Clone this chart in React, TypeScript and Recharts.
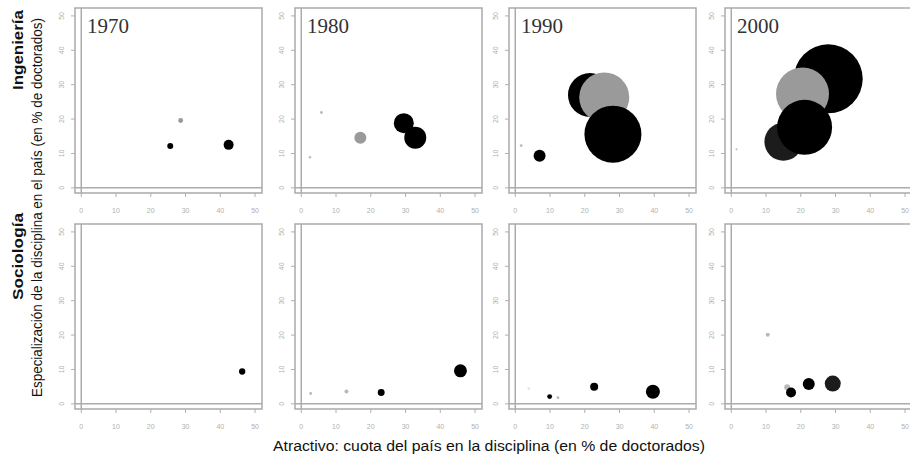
import {
  ScatterChart,
  Scatter,
  XAxis,
  YAxis,
  ZAxis,
  ReferenceLine,
  ReferenceArea,
  Cell,
} from "recharts";

type Punto = { x: number; y: number; z: number; grupo: string };

const years = ["1970", "1980", "1990", "2000"];
const disciplines = ["Ingeniería", "Sociología"];
const axisTicks = [0, 10, 20, 30, 40, 50];

// x = cuota del país, y = especialización, z = tamaño (doctorados)
const ingenieria1970: Punto[] = [
  { x: 28.6, y: 19.6, z: 6, grupo: "gris" },
  { x: 25.6, y: 12.2, z: 9, grupo: "negro" },
  { x: 42.4, y: 12.5, z: 25, grupo: "negro" },
];
const ingenieria1980: Punto[] = [
  { x: 5.8, y: 21.9, z: 2, grupo: "claro" },
  { x: 2.5, y: 8.9, z: 1.5, grupo: "claro" },
  { x: 17.0, y: 14.6, z: 36, grupo: "gris" },
  { x: 29.5, y: 18.8, z: 100, grupo: "negro" },
  { x: 32.8, y: 14.6, z: 121, grupo: "negro" },
];
const ingenieria1990: Punto[] = [
  { x: 1.7, y: 12.3, z: 2, grupo: "claro" },
  { x: 7.0, y: 9.3, z: 36, grupo: "negro" },
  { x: 21.5, y: 27.0, z: 484, grupo: "negro" },
  { x: 25.6, y: 26.3, z: 625, grupo: "gris" },
  { x: 28.1, y: 15.6, z: 812, grupo: "negro" },
];
const ingenieria2000: Punto[] = [
  { x: 1.5, y: 11.2, z: 1, grupo: "claro" },
  { x: 27.9, y: 31.7, z: 1190, grupo: "negro" },
  { x: 20.5, y: 27.3, z: 702, grupo: "gris" },
  { x: 15.0, y: 13.4, z: 361, grupo: "oscuro" },
  { x: 21.1, y: 17.6, z: 756, grupo: "negro" },
];
const sociologia1970: Punto[] = [{ x: 46.3, y: 9.4, z: 10, grupo: "negro" }];
const sociologia1980: Punto[] = [
  { x: 2.7, y: 3.0, z: 2, grupo: "claro" },
  { x: 13.0, y: 3.6, z: 4, grupo: "claro" },
  { x: 23.0, y: 3.3, z: 12, grupo: "negro" },
  { x: 45.8, y: 9.6, z: 42, grupo: "negro" },
];
const sociologia1990: Punto[] = [
  { x: 3.9, y: 4.4, z: 2, grupo: "tenue" },
  { x: 9.9, y: 2.1, z: 6, grupo: "negro" },
  { x: 12.3, y: 1.8, z: 2, grupo: "claro" },
  { x: 22.7, y: 5.0, z: 16, grupo: "negro" },
  { x: 39.6, y: 3.5, z: 49, grupo: "negro" },
];
const sociologia2000: Punto[] = [
  { x: 10.5, y: 20.1, z: 4, grupo: "claro" },
  { x: 16.1, y: 4.8, z: 9, grupo: "claro" },
  { x: 17.2, y: 3.3, z: 25, grupo: "negro" },
  { x: 22.3, y: 5.8, z: 36, grupo: "negro" },
  { x: 29.2, y: 5.9, z: 64, grupo: "oscuro" },
];

const rows = [
  [ingenieria1970, ingenieria1980, ingenieria1990, ingenieria2000],
  [sociologia1970, sociologia1980, sociologia1990, sociologia2000],
];

const fills: Record<string, string> = {
  negro: "#000000",
  oscuro: "#1c1c1c",
  gris: "#9a9a9a",
  claro: "#b9b9b9",
  tenue: "#e6e6e6",
};

const frameColor = "#ababab";
const tickColor = "#b0b0b0";

// layout
const boxLefts = [75, 295, 509, 725];
const rowTops = [8, 224];
const BOX_W = 187;
const BOX_H = 185;
const X_DOMAIN = [-1.8, 52];
const Y_DOMAIN = [-1.5, 52.3];

function XTick(props: any) {
  const { x, y, payload } = props;
  return (
    <text
      x={x}
      y={y}
      dy="0.35em"
      textAnchor="middle"
      fontSize={7}
      fill={tickColor}
      fontFamily="Liberation Sans, Arial, sans-serif"
    >
      {payload.value}
    </text>
  );
}

function YTick(props: any) {
  const { x, y, payload } = props;
  return (
    <text
      x={x}
      y={y}
      transform={`rotate(-90, ${x}, ${y})`}
      textAnchor="middle"
      fontSize={7}
      fill={tickColor}
      fontFamily="Liberation Sans, Arial, sans-serif"
    >
      {payload.value}
    </text>
  );
}

function Panel({ data, left, top, year }: { data: Punto[]; left: number; top: number; year: string }) {
  return (
    <div style={{ position: "absolute", left: left - 30, top: top - 2 }}>
      <ScatterChart
        width={30 + BOX_W + 4}
        height={2 + BOX_H + 32}
        margin={{ top: 2, right: 4, bottom: 0, left: 0 }}
      >
        <XAxis
          type="number"
          dataKey="x"
          domain={X_DOMAIN}
          ticks={axisTicks}
          interval={0}
          allowDataOverflow
          axisLine={false}
          tickLine={{ stroke: tickColor }}
          tickSize={4}
          tickMargin={14}
          height={32}
          tick={<XTick />}
        />
        <YAxis
          type="number"
          dataKey="y"
          domain={Y_DOMAIN}
          ticks={axisTicks}
          interval={0}
          allowDataOverflow
          axisLine={false}
          tickLine={{ stroke: tickColor }}
          tickSize={4}
          tickMargin={7}
          width={30}
          tick={<YTick />}
        />
        <ZAxis type="number" dataKey="z" domain={[0, 1200]} range={[0, 1200 * Math.PI]} />
        <ReferenceArea
          x1={X_DOMAIN[0]}
          x2={X_DOMAIN[1]}
          y1={Y_DOMAIN[0]}
          y2={Y_DOMAIN[1]}
          fill="none"
          fillOpacity={0}
          stroke={frameColor}
          strokeWidth={1.5}
        />
        <ReferenceLine x={0} stroke={frameColor} strokeWidth={1.5} />
        <ReferenceLine y={0} stroke={frameColor} strokeWidth={1.5} />
        <Scatter data={data} isAnimationActive={false}>
          {data.map((p, i) => (
            <Cell key={i} fill={fills[p.grupo]} />
          ))}
        </Scatter>
      </ScatterChart>
      {top === rowTops[0] && (
        <div
          style={{
            position: "absolute",
            left: 30 + 12,
            top: 2 + 8,
            fontFamily: "Liberation Serif, Times New Roman, serif",
            fontSize: 21,
            lineHeight: 1,
            color: "#333",
          }}
        >
          {year}
        </div>
      )}
    </div>
  );
}

export default function App() {
  return (
    <div style={{ position: "absolute", left: 0, top: 0, width: 910, height: 459, background: "#fff" }}>
      {rows.map((row, r) =>
        row.map((data, c) => (
          <Panel key={`${r}-${c}`} data={data} left={boxLefts[c]} top={rowTops[r]} year={years[c]} />
        ))
      )}
      <svg
        width={910}
        height={459}
        style={{ position: "absolute", left: 0, top: 0, pointerEvents: "none" }}
        fontFamily="Liberation Sans, Arial, sans-serif"
      >
        <text
          x={489}
          y={451}
          textAnchor="middle"
          fontSize={14}
          fill="#111"
          textLength={432}
          lengthAdjust="spacingAndGlyphs"
        >
          Atractivo: cuota del país en la disciplina (en % de doctorados)
        </text>
        <text
          transform="translate(42, 207.5) rotate(-90)"
          textAnchor="middle"
          fontSize={14}
          fill="#111"
          textLength={379}
          lengthAdjust="spacingAndGlyphs"
        >
          Especialización de la disciplina en el país (en % de doctorados)
        </text>
        <text
          transform="translate(23, 50) rotate(-90)"
          textAnchor="middle"
          fontSize={14}
          fontWeight="bold"
          fill="#111"
          textLength={80}
          lengthAdjust="spacingAndGlyphs"
        >
          {disciplines[0]}
        </text>
        <text
          transform="translate(23, 256.5) rotate(-90)"
          textAnchor="middle"
          fontSize={14}
          fontWeight="bold"
          fill="#111"
          textLength={87}
          lengthAdjust="spacingAndGlyphs"
        >
          {disciplines[1]}
        </text>
      </svg>
    </div>
  );
}
